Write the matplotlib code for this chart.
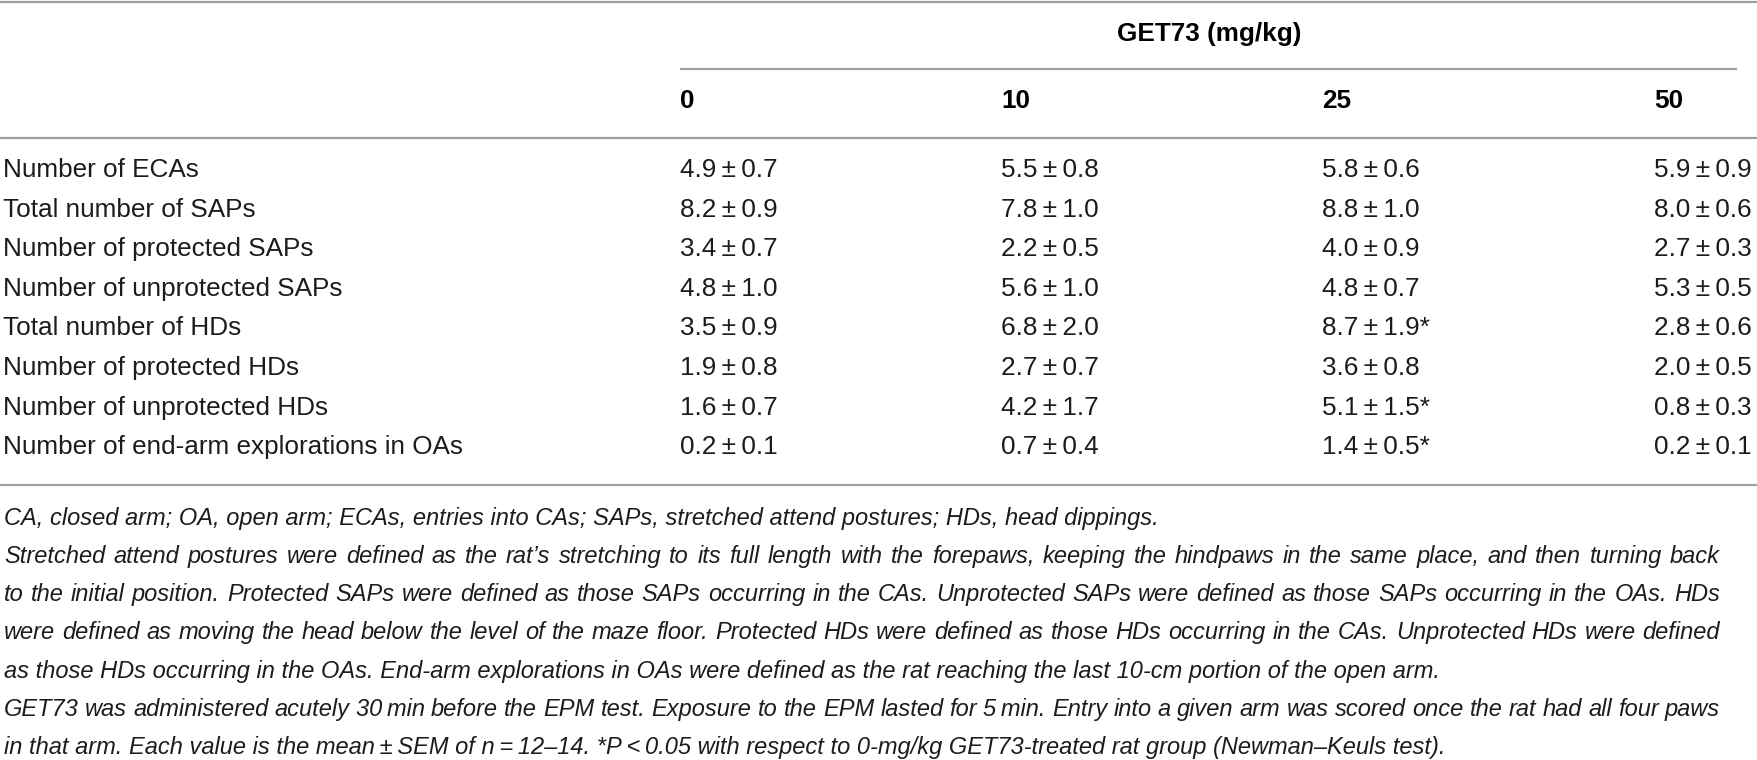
import matplotlib
matplotlib.use("Agg")
import matplotlib.pyplot as plt

# table content
doses = ["0", "10", "25", "50"]
row_labels = [
    "Number of ECAs",
    "Total number of SAPs",
    "Number of protected SAPs",
    "Number of unprotected SAPs",
    "Total number of HDs",
    "Number of protected HDs",
    "Number of unprotected HDs",
    "Number of end-arm explorations in OAs",
]
means = [
    [4.9, 5.5, 5.8, 5.9],
    [8.2, 7.8, 8.8, 8.0],
    [3.4, 2.2, 4.0, 2.7],
    [4.8, 5.6, 4.8, 5.3],
    [3.5, 6.8, 8.7, 2.8],
    [1.9, 2.7, 3.6, 2.0],
    [1.6, 4.2, 5.1, 0.8],
    [0.2, 0.7, 1.4, 0.2],
]
sems = [
    [0.7, 0.8, 0.6, 0.9],
    [0.9, 1.0, 1.0, 0.6],
    [0.7, 0.5, 0.9, 0.3],
    [1.0, 1.0, 0.7, 0.5],
    [0.9, 2.0, 1.9, 0.6],
    [0.8, 0.7, 0.8, 0.5],
    [0.7, 1.7, 1.5, 0.3],
    [0.1, 0.4, 0.5, 0.1],
]
signif = [
    [0, 0, 0, 0],
    [0, 0, 0, 0],
    [0, 0, 0, 0],
    [0, 0, 0, 0],
    [0, 0, 1, 0],
    [0, 0, 0, 0],
    [0, 0, 1, 0],
    [0, 0, 1, 0],
]
group_title = "GET73 (mg/kg)"
notes = [
    "CA, closed arm; OA, open arm; ECAs, entries into CAs; SAPs, stretched attend postures; HDs, head dippings.",
    "Stretched attend postures were defined as the rat\u2019s stretching to its full length with the forepaws, keeping the hindpaws in the same place, and then turning back",
    "to the initial position. Protected SAPs were defined as those SAPs occurring in the CAs. Unprotected SAPs were defined as those SAPs occurring in the OAs. HDs",
    "were defined as moving the head below the level of the maze floor. Protected HDs were defined as those HDs occurring in the CAs. Unprotected HDs were defined",
    "as those HDs occurring in the OAs. End-arm explorations in OAs were defined as the rat reaching the last 10-cm portion of the open arm.",
    "GET73 was administered acutely 30\u2009min before the EPM test. Exposure to the EPM lasted for 5\u2009min. Entry into a given arm was scored once the rat had all four paws",
    "in that arm. Each value is the mean\u2009\u00b1\u2009SEM of n\u2009=\u200912\u201314. *P\u2009<\u20090.05 with respect to 0-mg/kg GET73-treated rat group (Newman\u2013Keuls test).",
]
justify = [False, True, True, True, False, True, False]

W, H = 1757, 760
fig = plt.figure(figsize=(W / 100, H / 100), dpi=100)
ax = fig.add_axes([0, 0, 1, 1])
ax.set_xlim(0, W)
ax.set_ylim(H, 0)
ax.axis("off")

FONT = "Liberation Sans"
txt_col = "#1c1c1c"
line_col = "#a0a0a0"
body = 18.8
note_size = 17.0

col_x = [680, 1001, 1322, 1654]
row_y0, row_dy = 170, 39.6

# rules
ax.plot([0, W], [1.5, 1.5], color=line_col, lw=1.6, solid_capstyle="butt")
ax.plot([col_x[0], 1737], [69, 69], color=line_col, lw=1.6, solid_capstyle="butt")
ax.plot([0, W], [138, 138], color=line_col, lw=1.6, solid_capstyle="butt")
ax.plot([0, W], [485, 485], color=line_col, lw=1.6, solid_capstyle="butt")

ax.text(1209, 34, group_title, ha="center", va="center", fontsize=body,
        fontweight="bold", family=FONT, color="black")
for x, d in zip(col_x, doses):
    ax.text(x, 101, d, ha="left", va="center", fontsize=body,
            fontweight="bold", family=FONT, color="black")

for i, lab in enumerate(row_labels):
    y = row_y0 + i * row_dy
    ax.text(3, y, lab, ha="left", va="center", fontsize=body, family=FONT, color=txt_col)
    for j, x in enumerate(col_x):
        s = f"{means[i][j]:.1f}\u2009\u00b1\u2009{sems[i][j]:.1f}" + ("*" if signif[i][j] else "")
        ax.text(x, y, s, ha="left", va="center", fontsize=body, family=FONT, color=txt_col)

# footnotes, some lines justified to the right margin
fig.canvas.draw()
r = fig.canvas.get_renderer()
right = 1720
for k, line in enumerate(notes):
    y = 518 + k * 38.3
    kw = dict(ha="left", va="center", fontsize=note_size, family=FONT,
              style="italic", color=txt_col)
    if not justify[k]:
        ax.text(4, y, line, **kw)
        continue
    words = line.split(" ")
    arts = [ax.text(0, y, w, **kw) for w in words]
    widths = []
    for a in arts:
        bb = a.get_window_extent(r)
        widths.append(bb.width)
    gap = (right - 4 - sum(widths)) / (len(words) - 1)
    x = 4
    for a, w in zip(arts, widths):
        a.set_x(x)
        x += w + gap

fig.savefig("out.png", dpi=100)
